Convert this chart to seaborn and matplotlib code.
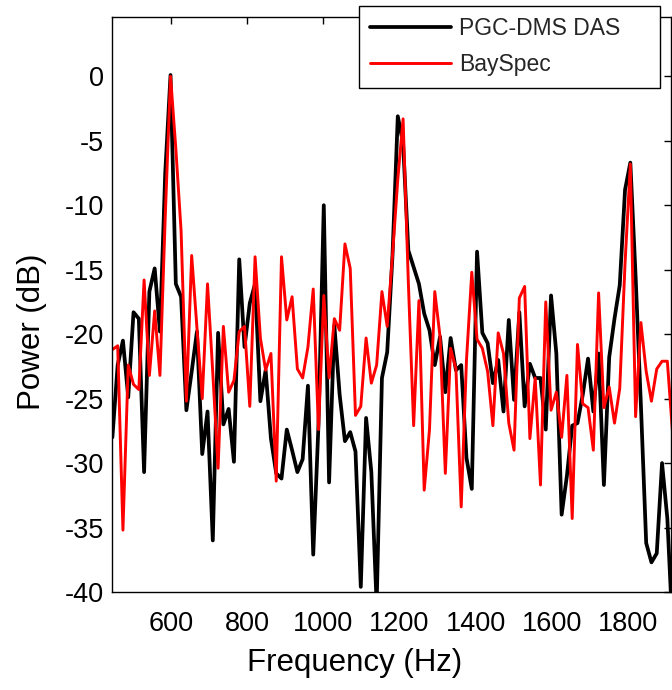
import numpy as np
import pandas as pd
import matplotlib
matplotlib.use("Agg")
import matplotlib.pyplot as plt
import seaborn as sns

# frequency bins (Hz)
freq = [446.5, 460.4, 474.2, 488.1, 502.0, 515.9, 529.7, 543.6, 557.5, 571.3,
        585.2, 599.1, 613.0, 626.8, 640.7, 654.6, 668.4, 682.3, 696.2, 710.0,
        723.9, 737.8, 751.6, 765.5, 779.4, 793.3, 807.1, 821.0, 834.9, 848.7,
        862.6, 876.5, 890.3, 904.2, 918.1, 932.0, 945.8, 959.7, 973.6, 987.4,
        1001.3, 1015.2, 1029.0, 1042.9, 1056.8, 1070.7, 1084.5, 1098.4, 1112.3, 1126.1,
        1140.0, 1153.9, 1167.7, 1181.6, 1195.5, 1209.4, 1223.2, 1237.1, 1251.0, 1264.8,
        1278.7, 1292.6, 1306.4, 1320.3, 1334.2, 1348.1, 1361.9, 1375.8, 1389.7, 1403.5,
        1417.4, 1431.3, 1445.1, 1459.0, 1472.9, 1486.8, 1500.6, 1514.5, 1528.4, 1542.2,
        1556.1, 1570.0, 1583.8, 1597.7, 1611.6, 1625.5, 1639.3, 1653.2, 1667.1, 1680.9,
        1694.8, 1708.7, 1722.5, 1736.4, 1750.3, 1764.2, 1778.0, 1791.9, 1805.8, 1819.6,
        1833.5, 1847.4, 1861.2, 1875.1, 1889.0, 1902.9, 1916.7]

das_db = [-28.0, -22.4, -20.5, -24.9, -18.3, -18.8, -30.7, -16.7, -14.9, -19.8,
          -7.5, 0.1, -16.1, -17.1, -25.9, -22.9, -19.8, -29.3, -26.0, -36.0,
          -19.9, -27.0, -25.8, -29.9, -14.2, -21.0, -17.6, -16.1, -25.2, -22.8,
          -28.1, -30.8, -31.2, -27.4, -29.0, -30.7, -29.7, -24.0, -37.1, -27.0,
          -10.0, -31.5, -19.3, -24.7, -28.3, -27.6, -29.1, -39.6, -26.5, -30.7,
          -41.0, -23.4, -21.4, -13.9, -3.1, -5.2, -13.5, -14.8, -16.1, -18.4,
          -19.7, -22.4, -20.2, -24.5, -20.3, -22.8, -22.4, -29.6, -32.0, -13.6,
          -19.9, -20.7, -23.8, -22.0, -26.0, -18.9, -25.1, -18.3, -25.6, -22.3,
          -23.4, -23.4, -27.4, -17.0, -21.5, -34.0, -31.0, -27.1, -26.9, -24.7,
          -21.9, -26.0, -21.5, -31.7, -21.8, -18.8, -16.2, -8.8, -6.7, -15.5,
          -25.5, -36.2, -37.7, -37.0, -30.0, -34.3, -43.0]

bayspec_db = [-21.2, -20.9, -35.2, -22.4, -23.9, -24.3, -15.8, -23.2, -18.2, -23.2,
              -10.9, 0.0, -5.6, -12.0, -25.2, -13.9, -19.5, -25.0, -16.1, -23.0,
              -30.4, -19.4, -24.5, -23.6, -19.8, -19.4, -25.6, -14.0, -20.3, -22.8,
              -21.5, -31.4, -14.0, -18.9, -17.1, -22.7, -23.4, -21.0, -16.5, -27.4,
              -17.0, -23.4, -18.8, -19.7, -13.0, -14.9, -26.3, -25.6, -20.3, -23.8,
              -22.4, -16.7, -19.4, -13.9, -8.0, -3.3, -16.0, -27.1, -17.4, -32.1,
              -27.4, -16.7, -20.2, -30.8, -21.1, -22.7, -33.4, -22.0, -15.2, -20.4,
              -21.1, -22.9, -27.1, -19.9, -21.5, -26.9, -29.0, -17.2, -16.3, -28.1,
              -23.4, -31.7, -17.5, -25.9, -24.5, -28.0, -23.2, -34.3, -20.8, -25.4,
              -25.7, -29.0, -16.8, -25.7, -24.1, -26.9, -24.2, -14.5, -6.8, -26.4,
              -19.1, -22.9, -25.2, -22.7, -22.1, -22.1, -27.7]

x_ticks = [600, 800, 1000, 1200, 1400, 1600, 1800]
y_ticks = [0, -5, -10, -15, -20, -25, -30, -35, -40]

df = pd.DataFrame({"freq": freq, "PGC-DMS DAS": das_db, "BaySpec": bayspec_db})

sns.set_theme(style="white")
plt.rcParams["font.family"] = ["Liberation Sans", "DejaVu Sans"]
plt.rcParams["axes.unicode_minus"] = False

fig = plt.figure(figsize=(6.72, 6.90), dpi=100)
ax = fig.add_axes([112 / 672, 1 - 592 / 690, 559 / 672, 575 / 690])

sns.lineplot(data=df, x="freq", y="PGC-DMS DAS", color="black", lw=2.7,
             label="PGC-DMS DAS", ax=ax)
sns.lineplot(data=df, x="freq", y="BaySpec", color="#ff0000", lw=2.1,
             label="BaySpec", ax=ax)

ax.set_xlim(445.5, 1912.5)
ax.set_ylim(-40, 4.6)
ax.set_xticks(x_ticks)
ax.set_yticks(y_ticks)
ax.tick_params(direction="in", length=5, width=1, colors="black",
               labelsize=19.5, top=True, right=True)
ax.tick_params(axis="x", pad=13.5)
ax.tick_params(axis="y", pad=6)
for s in ax.spines.values():
    s.set_color("black")
    s.set_linewidth(1.0)

ax.set_xlabel("Frequency (Hz)", fontsize=22.5, color="black")
ax.set_ylabel("Power (dB)", fontsize=22.5, color="black")
ax.xaxis.set_label_coords(0.434, -0.097)
ax.yaxis.set_label_coords(-0.116, 0.452)

# legend box spans 359..660 px wide, sits partly above the axes
leg = ax.legend(loc="upper left",
                bbox_to_anchor=(359 / 672, 1 - 87 / 690, 301 / 672, 81 / 690),
                bbox_transform=fig.transFigure, mode="expand",
                fontsize=16.5, frameon=True, fancybox=False, framealpha=1,
                edgecolor="black", handlelength=3.5, handletextpad=0.35,
                borderpad=0.5, labelspacing=0.55, borderaxespad=0)
leg.get_frame().set_linewidth(1.0)

fig.savefig("out.png", dpi=100)
